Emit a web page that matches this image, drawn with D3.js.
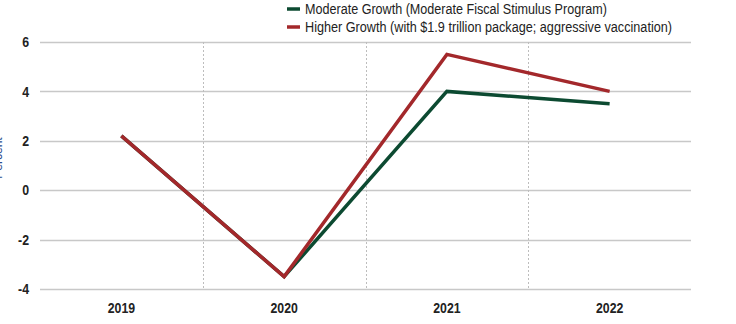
<!DOCTYPE html>
<html>
<head>
<meta charset="utf-8">
<script src="https://cdn.jsdelivr.net/npm/d3@7"></script>
<style>
body { margin: 0; background: #fff; }
svg { display: block; font-family: "Liberation Sans Narrow", "Arial Narrow", "Liberation Sans", sans-serif; }
</style>
</head>
<body>
<svg id="chart" width="736" height="324"></svg>
<script>
const years = ['2019', '2020', '2021', '2022']
const moderate = [2.2, -3.5, 4.0, 3.5]
const higher = [2.2, -3.5, 5.5, 4.0]
const yTicks = [-4, -2, 0, 2, 4, 6]
const seriesNames = [
	'Moderate Growth (Moderate Fiscal Stimulus Program)',
	'Higher Growth (with $1.9 trillion package; aggressive vaccination)'
]
const colors = ['#0c4a31', '#a3282b']
const legendWidths = [302, 367] // condensed face in the original, squeeze to match

const svg = d3.select('#chart')

const x = d3.scaleBand().domain(years).range([40, 691])
const y = d3.scaleLinear().domain([-4, 6]).range([289, 42])

// horizontal grid
svg.append('g')
	.selectAll('line')
	.data(yTicks)
	.join('line')
	.attr('x1', 40).attr('x2', 691)
	.attr('y1', d => Math.round(y(d)) + 0.5).attr('y2', d => Math.round(y(d)) + 0.5)
	.attr('stroke', '#c8c8c8')
	.attr('stroke-width', 1.3)

// dotted separators between years
svg.append('g')
	.selectAll('line')
	.data(years.slice(1))
	.join('line')
	.attr('x1', d => Math.round(x(d)) + 0.5).attr('x2', d => Math.round(x(d)) + 0.5)
	.attr('y1', y(6)).attr('y2', y(-4))
	.attr('stroke', '#bdbdbd')
	.attr('stroke-dasharray', '2,2')

// y labels
svg.append('g')
	.selectAll('text')
	.data(yTicks)
	.join('text')
	.attr('transform', d => `translate(29,${y(d)}) scale(0.85,1)`)
	.attr('dy', '0.36em')
	.attr('text-anchor', 'end')
	.attr('font-size', 14.5)
	.attr('font-weight', 'bold')
	.attr('fill', '#222')
	.text(d => d)

// x labels
svg.append('g')
	.selectAll('text')
	.data(years)
	.join('text')
	.attr('transform', d => `translate(${x(d) + x.bandwidth() / 2},313) scale(0.82,1)`)
	.attr('text-anchor', 'middle')
	.attr('font-size', 15)
	.attr('font-weight', 'bold')
	.attr('fill', '#222')
	.text(d => d)

// axis title, mostly cut off at left edge like the original
svg.append('text')
	.attr('transform', 'translate(2,158) rotate(-90)')
	.attr('text-anchor', 'middle')
	.attr('font-size', 12)
	.attr('fill', '#2a4d8f')
	.text('Percent')

const line = d3.line()
	.x((d, i) => x(years[i]) + x.bandwidth() / 2)
	.y(d => y(d))

svg.append('g')
	.selectAll('path')
	.data([moderate, higher])
	.join('path')
	.attr('d', line)
	.attr('fill', 'none')
	.attr('stroke', (d, i) => colors[i])
	.attr('stroke-width', 3.5)

// legend
const leg = svg.append('g')
	.selectAll('g')
	.data(seriesNames)
	.join('g')
	.attr('transform', (d, i) => `translate(287,${9 + i * 18})`)

leg.append('line')
	.attr('x1', 0).attr('x2', 13)
	.attr('stroke', (d, i) => colors[i])
	.attr('stroke-width', 3.5)

leg.append('text')
	.attr('x', 18)
	.attr('dy', '0.36em')
	.attr('font-size', 14)
	.attr('fill', '#222')
	.attr('textLength', (d, i) => legendWidths[i])
	.attr('lengthAdjust', 'spacingAndGlyphs')
	.text(d => d)
</script>
</body>
</html>
